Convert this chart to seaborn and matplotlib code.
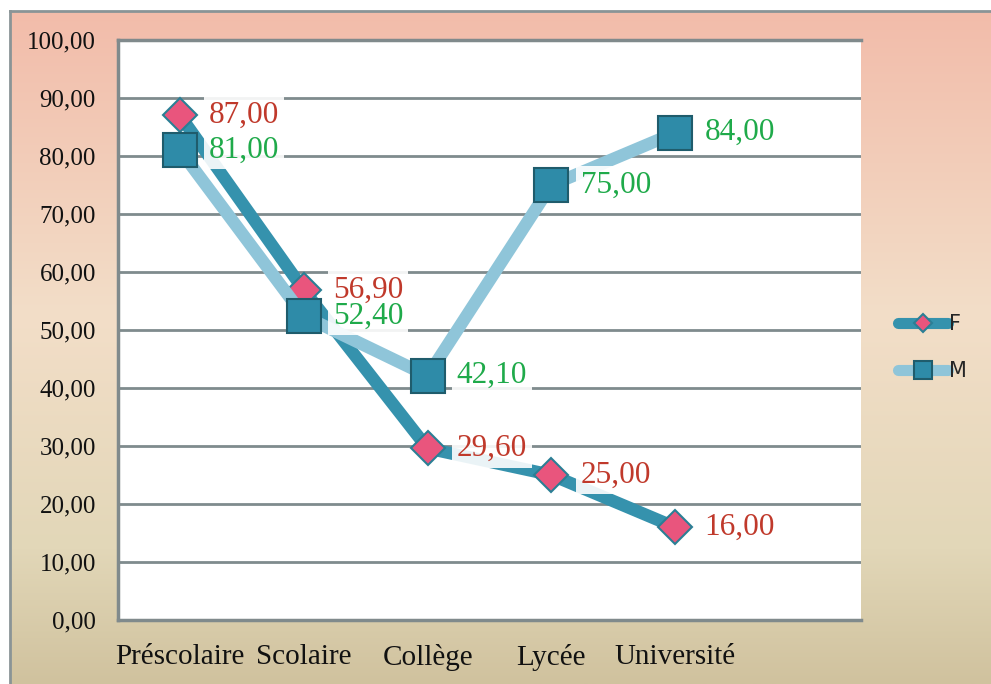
import numpy as np
import pandas as pd
import matplotlib
matplotlib.use('Agg')
import matplotlib.pyplot as plt
import seaborn as sns
from matplotlib.colors import LinearSegmentedColormap
from matplotlib.ticker import FuncFormatter, MultipleLocator

# values
niveaux = ['Préscolaire', 'Scolaire', 'Collège', 'Lycée', 'Université']
valeurs_f = [87.0, 56.9, 29.6, 25.0, 16.0]
valeurs_m = [81.0, 52.4, 42.1, 75.0, 84.0]

df_f = pd.DataFrame({'niveau': niveaux, 'taux': valeurs_f})
df_m = pd.DataFrame({'niveau': niveaux, 'taux': valeurs_m})

sns.set_theme(style='white')
plt.rcParams['font.family'] = ['Liberation Serif', 'DejaVu Serif']

fig = plt.figure(figsize=(9.91, 6.84), dpi=100)

# gradient background of the chart area (salmon at top, tan at bottom)
bg = fig.add_axes([10 / 991, 0, 1 - 10 / 991, 1 - 11 / 684], zorder=-10)
cmap = LinearSegmentedColormap.from_list('fond', [
    (0.0, (242 / 255, 188 / 255, 170 / 255)),
    (0.45, (243 / 255, 222 / 255, 200 / 255)),
    (0.8, (226 / 255, 215 / 255, 184 / 255)),
    (1.0, (208 / 255, 194 / 255, 158 / 255)),
])
bg.imshow(np.linspace(0, 1, 256).reshape(-1, 1), aspect='auto', cmap=cmap,
          extent=[0, 1, 0, 1])
bg.set_xticks([])
bg.set_yticks([])
for s in ['right', 'bottom']:
    bg.spines[s].set_visible(False)
for s in ['left', 'top']:
    bg.spines[s].set_color('#8a9496')
    bg.spines[s].set_linewidth(2)

ax = fig.add_axes([118 / 991, 64 / 684, 743 / 991, 580 / 684])
ax.set_facecolor('white')

sns.lineplot(data=df_f, x='niveau', y='taux', ax=ax, color='#3592ad', lw=9,
             marker='D', markersize=17, markerfacecolor='#e9557d',
             markeredgecolor='#2a7f95', markeredgewidth=1.5, label='F',
             zorder=3, sort=False)
sns.lineplot(data=df_m, x='niveau', y='taux', ax=ax, color='#8fc5d9', lw=9,
             marker='s', markersize=24, markerfacecolor='#2e8ba8',
             markeredgecolor='#1f5c6c', markeredgewidth=1.5, label='M',
             zorder=4, sort=False)


def etiquette(i, v, couleur):
    txt = f'{v:.2f}'.replace('.', ',')
    # white box under the text (separate so boxes never hide other labels)
    ax.annotate(txt, (i, v), xytext=(21, 0), textcoords='offset points',
                ha='left', va='center', fontsize=22.5, color=(0, 0, 0, 0),
                zorder=5,
                bbox=dict(boxstyle='square,pad=0.15', fc='white', ec='none', alpha=0.9))
    ax.annotate(txt, (i, v), xytext=(21, 0), textcoords='offset points',
                ha='left', va='center', fontsize=22.5, color=couleur, zorder=8)


for i, v in enumerate(valeurs_f):
    etiquette(i, v, '#c0392b')
for i, v in enumerate(valeurs_m):
    etiquette(i, v, '#1faa4a')

ax.set_xlim(-0.5, 5.5)
ax.set_ylim(0, 100)
ax.yaxis.set_major_locator(MultipleLocator(10))
ax.yaxis.set_major_formatter(FuncFormatter(lambda v, p: f'{v:.2f}'.replace('.', ',')))
ax.yaxis.grid(True, color='#7f8b8d', lw=2)
ax.set_axisbelow(True)
ax.set_xlabel('')
ax.set_ylabel('')
ax.tick_params(axis='y', length=0, pad=16, labelsize=18, labelcolor='#111111')
ax.tick_params(axis='x', length=0, pad=17, labelsize=21, labelcolor='#111111')

for s in ['left', 'top', 'bottom']:
    ax.spines[s].set_color('#808a8c')
    ax.spines[s].set_linewidth(2.5)
ax.spines['right'].set_visible(False)

leg = ax.legend(loc='center left', bbox_to_anchor=(1.025, 0.47), frameon=False,
                prop={'family': 'DejaVu Sans', 'size': 15}, handlelength=2.4,
                handletextpad=0.05, labelspacing=1.3, markerscale=0.55)
for line in leg.get_lines():
    line.set_linewidth(8)

fig.savefig('out.png', dpi=100)
